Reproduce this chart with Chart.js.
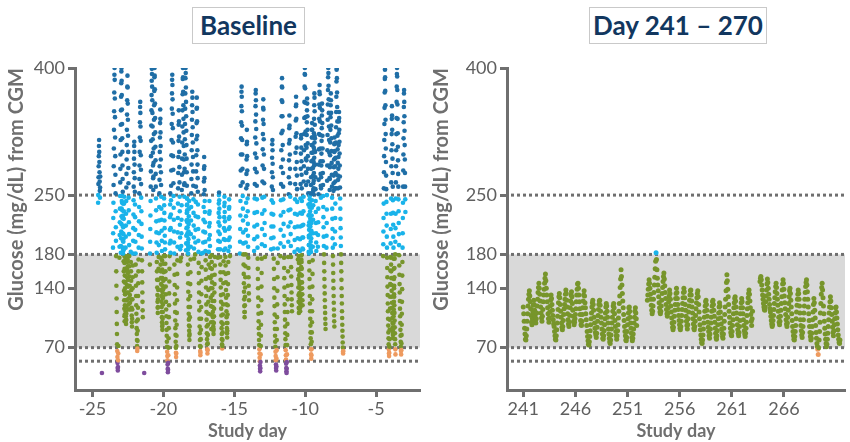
<!DOCTYPE html>
<html>
<head>
<meta charset="utf-8">
<script src="https://cdn.jsdelivr.net/npm/chart.js@4.4.1/dist/chart.umd.min.js"></script>
<style>
  body { margin: 0; background: #fff; }
  #wrap { position: relative; width: 850px; height: 442px; }
  .panel { position: absolute; top: 0; width: 425px; height: 442px; }
  .title { position: absolute; top: 7px; height: 35px; line-height: 35px; border: 1px solid #c9c9c9;
           font-family: Lato, "Open Sans", sans-serif; font-weight: bold; font-size: 26px; color: #12375f;
           text-align: center; background: #fff; }
</style>
</head>
<body>
<div id="wrap">
  <div class="panel" style="left:0"><canvas id="baselineChart" width="425" height="442"></canvas></div>
  <div class="panel" style="left:425px"><canvas id="maintChart" width="425" height="442"></canvas></div>
  <div class="title" style="left:192px; width:111px;">Baseline</div>
  <div class="title" style="left:589px; width:176px;">Day 241 – 270</div>
</div>
<script>
// glucose readings, mg/dL
var yTickValues = [70, 140, 180, 250, 400];
var refLines = [54, 70, 180, 250];
var targetRange = [70, 180];

var baselineTicks = [-25, -20, -15, -10, -5];
var maintTicks = [241, 246, 251, 256, 261, 266];

// baseline: start day of each stretch of CGM data + its readings
var baselineStep = 0.01;
var baselineStart = [-24.6, -24.33, -23.55, -23.1, -22.3, -21.35, -20.95, -19.95, -19.5, -18.75, -17.75, -17.2,
  -16.15, -14.6, -13.6, -12.4, -11.75, -10.75, -10.15, -9.1, -8.5, -7.9, -4.5, -3.65,
  -22.75, -20.2, -16.6, -10.45, -3.95, -23.0, -18.4, -9.75, -9.6, -8.0];
var baselineReadings = [
  [241,250,263,271,284,296,308,315,301,289,277,266,255,247,259,272],
  [40],
  [188,205,223,241,262,284,305,327,349,371,392,400,386,364,342,318,296,274,252,231,212,196,178,160,143,128,112,98,86,74,66,59,52,46,43,47,55,63,72],
  [176,189,203,218,234,249,265,281,298,315,333,350,366,382,396,400,385,368,351,334,317,301,285,269,254,240,226,212,198,185,172,160,148,137,126,116,107,101,109,120,133,147,161,175,188,201,214,228,243,259,275,292,309,327,345,362,378,391,377,358,339,320,301,282,264,247,232,218,204,191,178,166,154,143,132,123,115],
  [183,171,160,149,138,127,117,108,100,95,104,115,127,140,153,167,181,196,211,227,244,260,277,293,308,313,301,286,270,254,239,224,209,195,181,168,155,143,131,120,110,101,93,86,79,72,66,69,78,90,103,117,131,146,160,174,188,203,219,236,252,269,285,301,318,336,354,360,347,331,314,297,280,263,247,231,216,201,187,173,160,147,135,124,114,106],
  [40],
  [168,181,195,210,226,243,260,278,296,314,332,350,368,385,399,393,378,362,347,331,316,300,285,270,256,272,288,305,322,339,356,373,389,400,391,375,358,341,324,307,291,275,260,246,232,219,206,194,182,171,160,150,141,132,124,117,111,118,127,138,150,163,177,191,205,220,236,252,268,284,301,318,335,351,340,324,308,292,277,262,248,234,221,208,196,184,173,162,152,143,135,128],
  [246,238,229,220,211,202,194,186,178,169,160,151,142,133,124,115,107,99,91,84,77,71,65,60,55,50,45,41,44,52,61,70,81,93,106,120,134,148,163,178,193,209,224,239,252],
  [182,196,211,227,244,261,279,297,315,334,352,370,386,392,380,363,346,329,312,296,280,264,249,235,221,207,194,181,168,156,144,133,122,112,102,93,85,77,70,64,59,63,72,84,97,111,126,141,157,173,189,206,223,240,258,276,295,314,333,350,337,319,301,283,265,248,231,215,200,186,172],
  [176,190,205,221,238,256,274,293,312,331,350,369,387,400,389,372,356,340,324,308,292,277,262,248,264,281,298,316,334,352,370,388,400,394,377,360,343,326,309,293,277,261,246,232,218,205,192,180,168,157,146,136,127,118,110,103,96,90,84,79,86,95,106,118,131,145,159,174,189,204,220,236,252,269,286,303,321,339,356,372,365,348,330,312,295,278,261,245,229,214,200,187,175],
  [180,194,209,225,242,260,278,297,316,335,352,365,353,337,320,303,286,270,254,239,224,210,196,183,170,158,146,135,124,114,104,95,87,79,72,66,61,64,71,80,91,104,118,133,149,165,181],
  [182,194,207,221,236,251,266,281,295,284,270,256,243,230,218,206,195,184,173,162,151,141,131,121,112,103,95,87,80,74,68,63,67,75,85,97,110,124,138,153,168,183,198,213,228,243,231,217,203,190,177,164,152,140,129,119,109,100,92],
  [176,186,196,207,218,229,240,250,253,244,234,224,214,204,195,186,177,168,159,150,141,132,124,116,108,100,93,86,80,74,69,72,79,88,98,109,121,133,146,159,172,185,198,211,224,237,248,241,230,219,208,197,187,177,167,157,147,138,129,121,113,106,99,93,87,82,90,99,109,120,132,145,158,171,184,197,210,222,234,245,236,224,212,200,189,178],
  [181,195,210,226,243,261,279,298,317,336,355,372,378,366,349,332,315,298,281,265,249,234,220,206,193,180,168,157,146,136,127,119,112,106,112,120,130,141,153,166,180,194,209,225,241,258,275,292,310,327,313,296,279,262,246,231,216,202,189,176,164,153,143,134,126],
  [184,198,213,229,246,263,281,299,318,337,355,370,374,362,345,328,311,294,277,261,245,230,215,201,188,175,163,151,140,129,119,110,101,93,86,79,73,68,63,58,54,49,45,42,46,53,62,72,84,97,111,126,142,158,175,192,210,228,247,266,285,304,322,339,353,363,351,334,316,298,281,264,248,232,217,203,190,177],
  [186,199,213,228,244,260,277,294,310,315,303,287,271,256,241,227,213,200,187,175,163,151,140,129,119,109,100,92,84,77,71,65,60,55,50,46,43,48,57,67,79,92,106,121,137,153,170,187],
  [178,193,209,226,244,263,283,303,323,343,362,378,388,377,360,343,326,309,292,276,260,245,230,216,202,189,176,164,152,141,131,121,112,103,95,87,80,73,67,61,56,51,46,42,40,45,53,62,73,85,98,112,127,143,160,177,195,213,232,251,271,291,311,329,344,332,315,298,281,264,248,233,218,204,190,177,165,154,144,135,127,120,113],
  [183,197,212,228,245,263,281,300,319,338,355,366,357,340,323,306,289,273,257,242,227,213,199,186,174,162,151,141,132,124,117,111,116,124,134,145,157,170,184,198,213,229,246,263,281,299,317,321,306,290,274,258,243,228,214,200,187],
  [186,200,215,231,248,266,284,303,322,341,360,378,393,400,392,376,359,342,325,309,293,277,262,276,291,306,321,336,350,364,358,343,327,311,296,281,266,252,239,226,214,202,191,181,171,161,151,141,131,122,113,104,96,88,81,74,68,62,57,61,68,77,88,100,113,127,142,157,173,189,205,221,238,255,272,289,306,323,340,356,370,365,349,333,317,301,286,271,257,243,230,217,205,194,184],
  [189,203,218,234,251,268,286,304,322,340,357,372,380,369,353,337,321,305,290,275,261,247,258,271,285,299,314,329,344,358,350,335,320,305,290,276,262,249,236,224,212,201,190,180,170,160,151,142,134,126,118,111,104,98,92],
  [188,202,217,233,250,267,285,303,321,339,357,374,389,400,394,379,363,347,331,315,300,285,270,256,269,283,297,312,327,342,356,370,362,347,332,317,302,288,274,260,247,234,222,210,199,188,178,168,158,149,140,131,123,115,108,101,95],
  [192,207,223,240,258,276,294,312,330,348,366,384,398,400,388,371,354,337,320,304,288,273,258,268,281,295,309,323,337,348,341,327,313,299,285,272,259,246,234,222,211,200,190,180,170,160,150,140,131,122,113,105,97,90,83,76,70,65,63,66],
  [178,192,207,223,240,258,277,296,315,334,353,371,387,398,389,373,356,339,322,305,289,273,257,242,228,214,201,188,176,164,153,142,132,122,113,104,96,88,81,74,68,63,60,64,71,80,91,103,116,130,145,161,177,193,210,228,246,265,284,303,322,340,355,344,327,310,293,276,260,244,229,215,201,188,175,163,151,140,130,120,111,102,94,87,80,74,68,62],
  [180,195,211,228,246,265,284,303,322,341,360,378,393,400,390,374,357,340,323,307,291,275,260,245,231,217,204,191,179,167,156,145,135,125,116,107,99,91,84,77,71,66,62,67,75,85,97,110,124,139,155,171,188,205,223,241,260,279,298,317,336,354,370,374,360,343,326,309,292,276,260,245,230],
  [178,170,163,155,147,140,133,126,119,113,107,102,98,103,110,118,126,135,144,153,162,171,178,174,166,158,150,142,135,128,121,115],
  [176,168,160,152,145,138,131,124,118,112,106,100,95,91,97,104,112,121,130,139,149,159,169,178],
  [179,171,163,155,147,140,132,125,118,112,106,100,95,90,86,92,99,107,116,125,135,145,156,167,177],
  [178,170,162,155,148,141,134,128,122,117,113,118,124,131,139,147,156,165,174,179,171,163,155,147,140,133,126,120],
  [176,168,160,152,144,137,130,123,117,111,105,99,94,89,85,81,86,92,99,107,115,124,133,143,153,164,175],
  [182,190,199,207,216,225,234,243,249,241,232,223,214,205,196,188,181,186,195,204,213,222,231,240,248],
  [185,193,202,211,220,229,238,246,239,230,221,212,203,194,186,181,189,198,207,216,225,234,243],
  [183,191,200,209,218,227,236,245,249,240,231,222,213,204,195,187,183,190,199,208,217,226,235,244],
  [252,262,271,281,290,300,309,318,327,335,327,318,309,300,291,282,273,264,256,251,258,267,276,285,294,303,312,320],
  [255,264,273,283,292,301,310,318,311,302,293,284,275,266,258]
];

// day 241-270: three continuous stretches, one reading per hour
var maintStep = 1 / 24;
var maintStart = [241.0, 252.9, 263.7];
var maintReadings = [
  [118,110,101,93,86,80,79,84,92,101,110,119,127,133,137,131,124,116,108,100,97,104,112,120,
   126,121,114,108,102,99,104,111,119,127,135,141,146,140,133,125,118,111,105,101,107,115,124,132,
   139,146,152,157,149,140,132,124,117,110,104,100,105,112,119,126,132,128,121,114,108,103,98,95,
   89,84,80,79,84,91,99,107,115,123,130,134,129,121,113,106,99,94,91,95,102,109,116,121,
   127,133,138,134,126,118,110,103,98,95,100,108,117,125,132,136,130,122,114,107,101,97,100,104,
   109,116,124,132,139,145,146,140,132,124,116,109,102,97,96,101,109,117,125,132,137,131,123,117,
   110,103,96,89,83,78,74,73,77,83,90,97,104,111,118,123,126,121,114,106,99,93,88,85,
   82,87,94,101,108,115,121,125,126,120,113,106,99,92,86,81,80,84,90,97,104,111,118,122,
   119,113,106,99,92,86,81,77,75,79,85,92,99,106,113,119,122,117,110,102,95,89,84,80,
   84,90,97,105,113,122,131,141,151,162,154,144,134,125,117,109,102,95,89,84,79,78,82,89,
   97,104,111,117,118,113,106,99,93,87,82,78,81,86,92,99,106,113,117,111,104,96],
  [126,132,139,145,150,146,140,133,127,120,114,110,113,119,127,135,144,153,163,172,182,174,162,152,
   144,137,130,123,117,112,110,113,119,126,134,141,148,154,158,151,143,135,128,121,115,110,107,111,
   117,124,131,138,134,127,119,112,105,99,94,91,94,100,107,114,121,128,134,140,135,128,121,115,
   108,102,97,93,91,95,101,108,115,122,129,135,140,136,129,121,114,107,101,96,92,97,104,112,
   119,126,132,137,138,132,125,118,111,104,98,93,91,95,101,108,116,123,129,134,137,130,121,112,
   104,97,91,85,80,76,75,79,85,92,99,106,113,119,124,126,121,114,107,100,94,89,84,81,
   86,92,99,106,113,119,124,126,121,114,107,100,93,87,82,80,84,90,97,104,111,118,123,119,
   112,105,98,92,87,83,81,86,93,101,109,118,127,137,147,156,149,139,130,121,113,106,99,93,
   88,85,84,89,96,103,110,117,123,128,130,125,118,111,104,97,91,87,84,88,95,102,110,117,
   123,128,124,117,110,103,96,90,86,83,87,93,100,108,116,123,129,134,138,133,125,117,109,101,
   96,104,113],
  [148,152,154,150,144,138,132,127,122,118,115,114,118,124,131,138,145,151,147,140,133,127,121,116,
   112,107,102,98,95,97,102,108,115,122,129,136,142,146,141,134,127,120,113,106,100,97,101,107,
   114,122,130,138,145,150,146,139,131,123,116,109,103,98,95,99,106,114,122,130,137,140,134,126,
   118,110,102,95,89,84,80,79,83,89,96,104,112,120,127,133,138,134,127,119,111,103,96,90,
   85,82,88,95,103,111,119,127,135,142,147,150,144,136,127,118,110,102,95,88,83,79,81,87,
   95,103,112,121,128,123,114,105,96,88,81,75,71,68,62,70,79,89,100,111,122,133,141,146,
   138,129,119,110,101,93,86,80,75,71,74,80,87,95,103,111,118,124,130,125,117,109,101,94,
   88,84,90,97,104,111,117,118,112,105,98,91,85,80,76,75,79]
];

var fontFamily = 'Lato, "Open Sans", sans-serif';
var axisGray = '#6f6f6f';

function glucoseColor(v) {
  if (v > 250) return '#1f6ea6';
  if (v > 180) return '#19b3ea';
  if (v >= 70) return '#77952b';
  if (v >= 54) return '#ee9a5f';
  return '#7e4c9d';
}

function toPoints(starts, readings, step) {
  var pts = [];
  starts.forEach(function (s, i) {
    readings[i].forEach(function (g, j) {
      pts.push({ x: s + j * step, y: g });
    });
  });
  return pts;
}

// grey target band + dotted threshold lines
var thresholdPlugin = {
  id: 'thresholds',
  beforeDatasetsDraw: function (chart) {
    var ctx = chart.ctx, a = chart.chartArea, y = chart.scales.y;
    var top = y.getPixelForValue(targetRange[1]);
    var bot = y.getPixelForValue(targetRange[0]);
    ctx.save();
    ctx.fillStyle = '#d9d9d9';
    ctx.fillRect(a.left + 2, top, a.right - a.left - 2, bot - top);
    ctx.strokeStyle = axisGray;
    ctx.lineWidth = 3;
    ctx.setLineDash([3, 3]);
    refLines.forEach(function (v) {
      var py = y.getPixelForValue(v);
      ctx.beginPath();
      ctx.moveTo(a.left + 4, py);
      ctx.lineTo(a.right, py);
      ctx.stroke();
    });
    ctx.restore();
  }
};

function makeChart(id, points, xMin, xMax, xTicks, yWidth, radius) {
  return new Chart(document.getElementById(id), {
    type: 'scatter',
    data: {
      datasets: [{
        data: points,
        pointRadius: radius,
        pointBorderWidth: 0,
        pointBackgroundColor: function (c) { return glucoseColor(c.raw ? c.raw.y : 100); }
      }]
    },
    options: {
      responsive: false,
      animation: false,
      events: [],
      layout: { padding: { top: 68, right: 5, bottom: 0, left: 0 } },
      plugins: { legend: { display: false }, tooltip: { enabled: false } },
      scales: {
        x: {
          type: 'linear', min: xMin, max: xMax,
          afterBuildTicks: function (s) { s.ticks = xTicks.map(function (v) { return { value: v }; }); },
          afterFit: function (s) { s.height = 52; },
          grid: { drawOnChartArea: false, drawTicks: true, tickLength: 7, tickWidth: 3, tickColor: axisGray },
          border: { display: true, color: axisGray, width: 3 },
          ticks: { autoSkip: false, maxRotation: 0, padding: 1, color: '#5f5f5f',
                   font: { family: fontFamily, size: 18 }, callback: function (v) { return String(v); } },
          title: { display: true, text: 'Study day', color: axisGray, padding: { top: 0, bottom: 0 },
                   font: { family: fontFamily, size: 18, weight: 'bold' } }
        },
        y: {
          type: 'linear', min: 20, max: 400,
          afterBuildTicks: function (s) { s.ticks = yTickValues.map(function (v) { return { value: v }; }); },
          afterFit: function (s) { s.width = yWidth; },
          grid: { drawOnChartArea: false, drawTicks: true, tickLength: 7, tickWidth: 3, tickColor: axisGray },
          border: { display: true, color: axisGray, width: 3 },
          ticks: { autoSkip: false, padding: 3, color: '#5f5f5f', font: { family: fontFamily, size: 18 } },
          title: { display: true, text: 'Glucose (mg/dL) from CGM', align: 'end', color: axisGray,
                   padding: { top: 5, bottom: 0 }, font: { family: fontFamily, size: 20, weight: 'bold' } }
        }
      }
    },
    plugins: [thresholdPlugin]
  });
}

makeChart('baselineChart', toPoints(baselineStart, baselineReadings, baselineStep), -26.23, -1.9, baselineTicks, 75, 2.3);
makeChart('maintChart', toPoints(maintStart, maintReadings, maintStep), 239.44, 271.85, maintTicks, 82, 2.5);
</script>
</body>
</html>
